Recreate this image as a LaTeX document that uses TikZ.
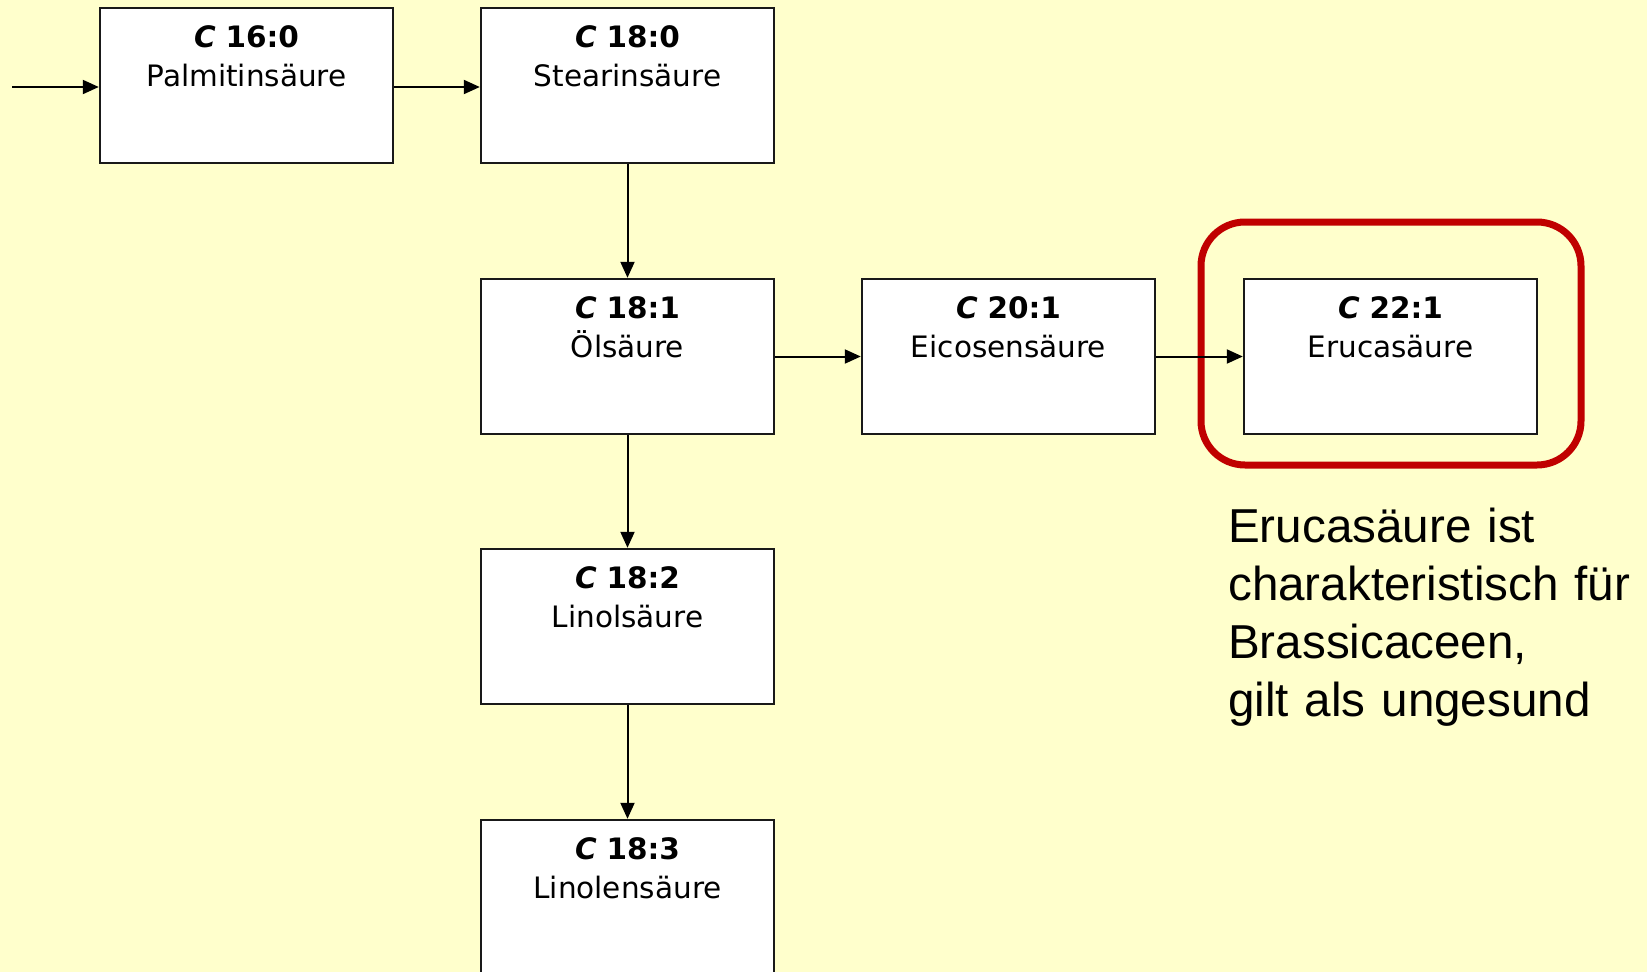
\documentclass[tikz,border=0pt]{standalone}
\usepackage{fontspec}
\setmainfont{Liberation Sans}
\newfontfamily\boxfont{DejaVu Sans}
\usetikzlibrary{arrows.meta}
\definecolor{bgyellow}{HTML}{FFFFCC}
\definecolor{hlred}{HTML}{C00000}
\tikzset{
  acid/.style={draw=black!90, line width=2.4pt, fill=white, inner sep=0pt,
    text width=293pt, align=center, text height=39pt, text depth=116pt,
    font=\boxfont\fontsize{29.5}{39}\selectfont},
  flow/.style={line width=2pt, -{Triangle[length=16pt,width=14pt]}},
  highlight/.style={draw=hlred, line width=7pt, rounded corners=44pt,
    minimum width=380pt, minimum height=243pt, inner sep=0pt},
  note/.style={anchor=base west, inner sep=0pt, text width=430pt, align=left,
    font=\fontsize{47.6}{58}\selectfont}
}
\newcommand{\acidname}[2]{\textbf{\textit{C} #1}\\#2}
\begin{document}
\begin{tikzpicture}[x=1pt,y=-1pt]
\fill[bgyellow] (0,0) rectangle (1647,972);
\useasboundingbox (0,0) rectangle (1647,972);
\node[acid] (c160) at (246.5,85.5) {\acidname{16:0}{Palmitinsäure}};
\node[acid] (c180) at (627.5,85.5) {\acidname{18:0}{Stearinsäure}};
\node[acid] (c181) at (627.5,356.5) {\acidname{18:1}{Ölsäure}};
\node[acid] (c201) at (1008.5,356.5) {\acidname{20:1}{Eicosensäure}};
\node[acid] (c221) at (1390.5,356.5) {\acidname{22:1}{Erucasäure}};
\node[acid] (c182) at (627.5,626.5) {\acidname{18:2}{Linolsäure}};
\node[acid] (c183) at (627.5,897.5) {\acidname{18:3}{Linolensäure}};
\node[highlight] (hl) at (1391,343.5) {};
\coordinate (start) at (12,87);
\draw[flow] (start) -- (start -| c160.west);
\draw[flow] (start -| c160.east) -- (start -| c180.west);
\draw[flow] (c180) -- (c181);
\draw[flow] (c181) -- (c201);
\draw[flow] (c201) -- (c221);
\draw[flow] (c181) -- (c182);
\draw[flow] (c182) -- (c183);
\node[note] (txt) at (1228,542) {Erucasäure ist\\charakteristisch für\\Brassicaceen,\\gilt als ungesund};
\end{tikzpicture}
\end{document}
